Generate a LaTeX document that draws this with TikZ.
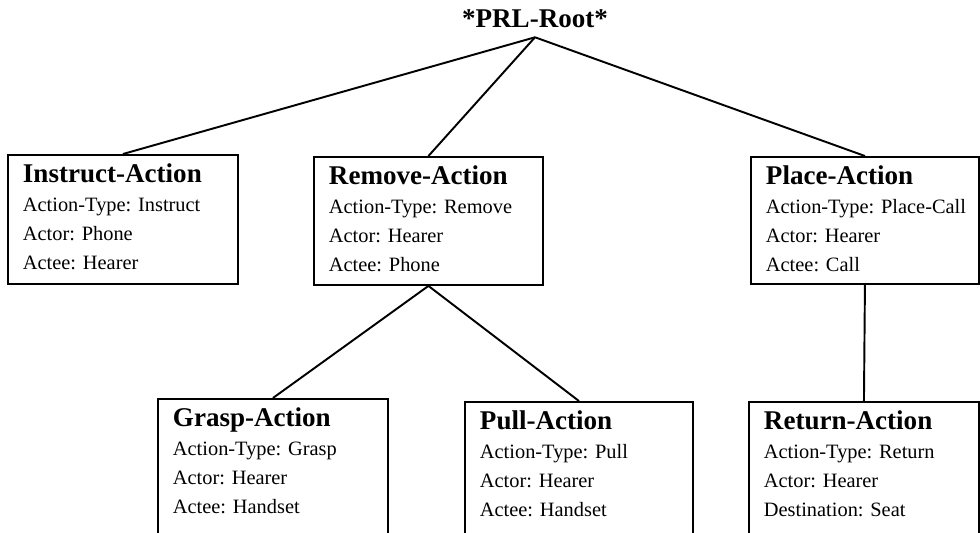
\documentclass[tikz,border=0pt]{standalone}
\usepackage{fontspec}
\setmainfont{Liberation Serif}
\newcommand{\titlefont}{\fontsize{15.4}{16.5}\selectfont\bfseries}
\newcommand{\bodyfont}{\fontsize{11.6}{16.5}\selectfont}
\tikzset{actframe/.style={draw,line width=1.1pt,anchor=north west,inner xsep=0.3cm,inner ysep=0.1cm},
link/.style={line width=1.1pt}}
\newcommand{\actbox}[6]{
\node[actframe] (#1) at #2 {\makebox[\dimexpr #3-0.6cm\relax][l]{\begin{minipage}[c][\dimexpr #4-0.2cm\relax][t]{\dimexpr #3-0.3cm\relax}
\bodyfont\raggedright\rule{0pt}{12.8pt}{\titlefont #5}\\
#6
\end{minipage}}};
}

\begin{document}
\begin{tikzpicture}[x=0.02cm,y=-0.02cm]
\useasboundingbox (0,0) rectangle (980,532);
\clip (0,0) rectangle (980,532);
\node[anchor=base,inner sep=5.5pt,font=\titlefont] (root) at (535,27) {*PRL-Root*};
\actbox{instruct}{(7,154)}{4.6cm}{2.58cm}{Instruct-Action}{Action-Type: Instruct\\ Actor: Phone\\ Actee: Hearer}
\actbox{remove}{(313,156)}{4.58cm}{2.56cm}{Remove-Action}{Action-Type: Remove\\ Actor: Hearer\\ Actee: Phone}
\actbox{place}{(750,156)}{4.56cm}{2.54cm}{Place-Action}{Action-Type: Place-Call\\ Actor: Hearer\\ Actee: Call}
\actbox{grasp}{(157,398)}{4.6cm}{3.2cm}{Grasp-Action}{Action-Type: Grasp\\ Actor: Hearer\\ Actee: Handset}
\actbox{pull}{(464,401)}{4.56cm}{3.2cm}{Pull-Action}{Action-Type: Pull\\ Actor: Hearer\\ Actee: Handset}
\actbox{return}{(748,401)}{4.6cm}{3.2cm}{Return-Action}{Action-Type: Return\\ Actor: Hearer\\ Destination: Seat}
\draw[link] (root.south) -- (instruct.north);
\draw[link] (root.south) -- (remove.north);
\draw[link] (root.south) -- (place.north);
\draw[link] (remove.south) -- (grasp.north);
\draw[link] (remove.south) -- (pull.north);
\draw[link] (place.south) -- (return.north);
\end{tikzpicture}
\end{document}
